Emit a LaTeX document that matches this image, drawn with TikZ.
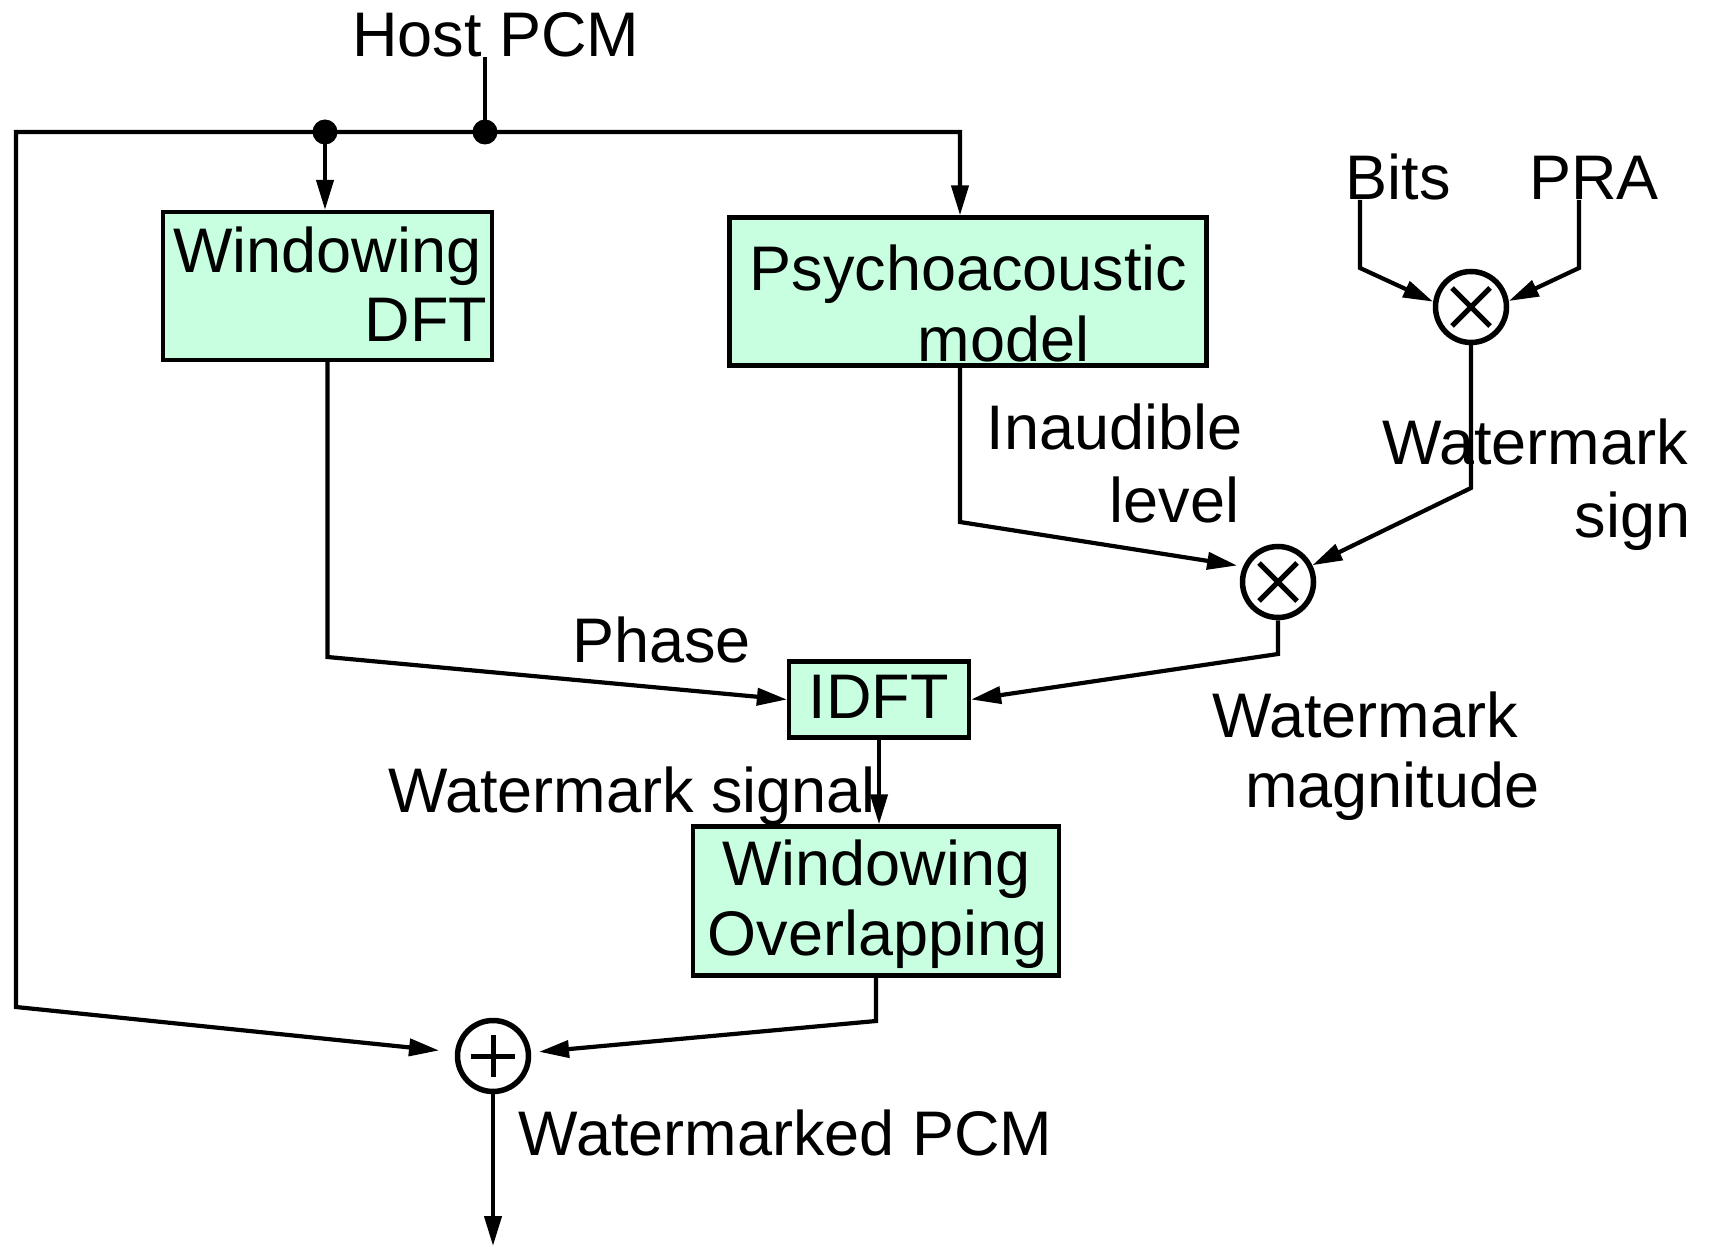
\documentclass[tikz,border=0pt]{standalone}
\usepackage{fontspec}
\setmainfont{Liberation Sans}
\usetikzlibrary{arrows.meta}
\definecolor{boxfill}{RGB}{199,255,224}
\begin{document}
\begin{tikzpicture}[x=1pt,y=-1pt,
  line width=4.2pt,
  >={Triangle[length=30pt,width=17pt]},
  blk/.style={draw, fill=boxfill, rectangle, inner sep=0pt, line width=4.2pt},
  txt/.style={inner sep=0pt, anchor=base, font=\fontsize{63}{71}\selectfont},
  op/.style={draw, circle, minimum size=71pt, inner sep=0pt, line width=5.5pt},
  junc/.style={fill, circle, minimum size=25pt, inner sep=0pt},
  sym/.style={line width=5pt},
]
\useasboundingbox (0,0) rectangle (1709,1246);

% processing blocks
\node[blk, minimum width=329pt, minimum height=148pt] (wdft) at (327.5,286) {};
\node[blk, minimum width=477pt, minimum height=148pt] (psy)  at (968,291.5) {};
\node[blk, minimum width=180pt, minimum height=76pt]  (idft) at (879,699.5) {};
\node[blk, minimum width=366pt, minimum height=149pt] (wovl) at (876,901) {};

% block texts
\node[txt] (wdftA) at (327.5,273) {Windowing};
\node[txt] (wdftB) at (426,342) {DFT};
\node[txt] (psyA)  at (968.5,291) {Psychoacoustic};
\node[txt] (psyB)  at (1003.5,362) {model};
\node[txt] (idftT) at (878.5,718) {IDFT};
\node[txt] (wovlA) at (876.5,885) {Windowing};
\node[txt] (wovlB) at (877.5,955) {Overlapping};

% multipliers and adder
\node[op] (mulA) at (1471,307) {};
\node[op] (mulB) at (1278,582) {};
\node[op] (sum)  at (493,1056) {};
\draw[sym] (mulA.center) +(-19,-19) -- +(19,19) (mulA.center) +(-19,19) -- +(19,-19);
\draw[sym] (mulB.center) +(-19,-19) -- +(19,19) (mulB.center) +(-19,19) -- +(19,-19);
\draw[sym] (sum.center) +(-22,0) -- +(22,0) (sum.center) +(0,-21) -- +(0,21);

% signal labels
\node[txt] (host)  at (496,57) {Host PCM};
\node[txt] (bits)  at (1398,200) {Bits};
\node[txt] (pra)   at (1594,200) {PRA};
\node[txt] (inaud) at (1114.5,450) {Inaudible};
\node[txt] (level) at (1174.5,522) {level};
\node[txt] (wsA)   at (1535,465) {Watermark};
\node[txt] (wsB)   at (1632.5,537) {sign};
\node[txt] (phase) at (661.5,662) {Phase};
\node[txt] (wsig)  at (632,812) {Watermark signal};
\node[txt] (wmA)   at (1365,737) {Watermark};
\node[txt] (wmB)   at (1392.5,807) {magnitude};
\node[txt] (wpcm)  at (785.5,1155) {Watermarked PCM};

% branch points and bends
\node[junc] (j1) at (325,132) {};
\node[junc] (j2) at (485,132) {};
\coordinate (tl) at (16,132);
\coordinate (tr) at (960,132);
\coordinate (bl) at (16,1007);
\coordinate (ph) at (327.5,657);
\coordinate (il) at (960,522);
\coordinate (sA) at (1471,488);
\coordinate (bitsc) at (1360,268);
\coordinate (prac) at (1579,268);
\coordinate (mB) at (1278,654);
\coordinate (wB) at (876,1021);
\coordinate (out) at (493,1246);

% connectors
\draw (host.base -| j2) -- (j2.center);
\draw[<->, shorten <=16pt] (sum) -- (bl) -- (tl) -- (tr) -- (tr |- psy.north);
\draw[->] (j1.center) -- (j1 |- wdft.north);
\draw[->] (wdft.south) -- (ph) -- (idft.west);
\draw[->, shorten >=6pt] (psy.south -| il) -- (il) -- (mulB.156);
\draw[->] (bits.base -| bitsc) -- (bitsc) -- (mulA.172);
\draw[->] (pra.base -| prac) -- (prac) -- (mulA.9);
\draw[->] (mulA) -- (sA) -- (mulB.26);
\draw[->] (mulB) -- (mB) -- (idft.east);
\draw[->] (idft.south) -- (idft.south |- wovl.north);
\draw[->, shorten >=8pt] (wovl.south) -- (wB) -- (sum);
\draw[->] (sum) -- (out);
\end{tikzpicture}
\end{document}
